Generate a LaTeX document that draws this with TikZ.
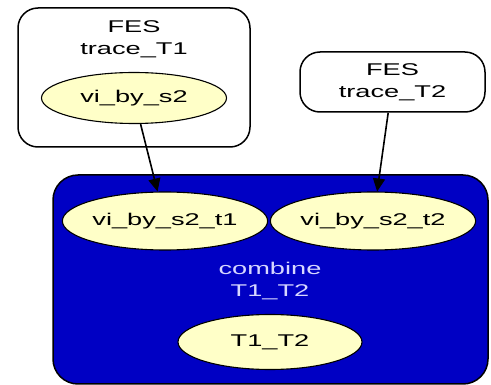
\documentclass[tikz,border=0pt]{standalone}
\usepackage{fontspec}
\newfontfamily\gvfont[FakeStretch=1.6]{Liberation Sans}
\usetikzlibrary{shapes.geometric,arrows.meta}
\definecolor{gvblue}{RGB}{0,0,196}
\definecolor{gvyellow}{RGB}{255,255,200}
\definecolor{gvlabel}{RGB}{215,215,255}
\begin{document}
\begin{tikzpicture}[x=1pt,y=-1pt,
  every node/.style={font=\gvfont\fontsize{17}{22}\selectfont, align=center},
  cluster/.style={draw=black, line width=1.5pt, rounded corners=20pt, inner sep=0pt},
  leaf/.style={ellipse, draw=black, line width=1.1pt, fill=gvyellow, minimum height=55pt, inner sep=0pt},
  edge/.style={-{Triangle[length=13pt,width=12pt]}, line width=1.6pt}]
\useasboundingbox (0,0) rectangle (491,385);
% cluster T1
\node[cluster, minimum width=232pt, minimum height=139pt] (c1) at (134,77.5) {};
\node (l1) at (134,39) {FES\\trace\_T1};
\node[leaf, minimum width=185pt, minimum height=51pt] (e1) at (134,98) {vi\_by\_s2};
% node T2
\node[cluster, minimum width=185pt, minimum height=60pt] (c2) at (392.5,82) {FES\\trace\_T2};
% cluster combine
\node[cluster, fill=gvblue, rounded corners=25pt, minimum width=435pt, minimum height=209pt] (c3) at (270.5,279.5) {};
\node[text=gvlabel] (l3) at (270,281) {combine\\T1\_T2};
\node[leaf, minimum width=185pt, minimum height=58pt] (e2) at (165,221) {vi\_by\_s2\_t1};
\node[leaf, minimum width=187pt, minimum height=58pt] (e3) at (373,221) {vi\_by\_s2\_t2};
\node[leaf, minimum width=184pt, minimum height=55pt] (e4) at (270,342) {T1\_T2};
% edges
\draw[edge] (e1) -- (e2);
\draw[edge] (c2) -- (e3);
\end{tikzpicture}
\end{document}
